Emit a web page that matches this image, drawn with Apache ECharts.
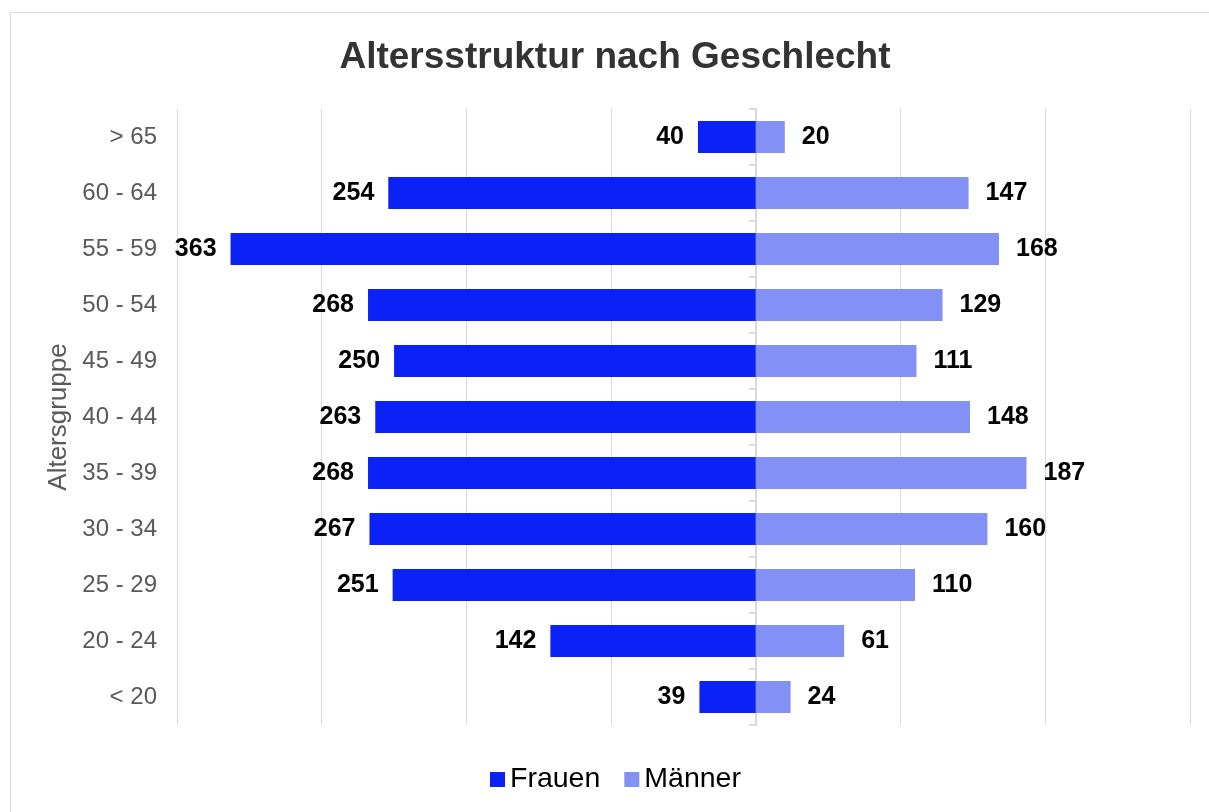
<!DOCTYPE html>
<html lang="de">
<head>
<meta charset="utf-8">
<title>Altersstruktur nach Geschlecht</title>
<script src="https://cdn.jsdelivr.net/npm/echarts@6/dist/echarts.min.js"></script>
<style>
  html, body { margin: 0; padding: 0; background: #ffffff; }
  #chart { width: 1209px; height: 812px; }
</style>
</head>
<body>
<div id="chart"></div>
<script>
// Age groups, listed from the bottom row upwards
const ageGroups = ['< 20', '20 - 24', '25 - 29', '30 - 34', '35 - 39', '40 - 44', '45 - 49', '50 - 54', '55 - 59', '60 - 64', '> 65'];
// Headcounts per age group
const frauen = [39, 142, 251, 267, 268, 263, 250, 268, 363, 254, 40];
const maenner = [24, 61, 110, 160, 187, 148, 111, 129, 168, 147, 20];

const FONT = '"Liberation Sans", Arial, sans-serif';
const COLOR_F = '#0b22f6';
const COLOR_M = '#8391f7';

const chart = echarts.init(document.getElementById('chart'), null, { renderer: 'canvas' });

chart.setOption({
  animation: false,
  backgroundColor: '#ffffff',
  graphic: [{
    type: 'rect',
    shape: { x: 10.5, y: 12.5, width: 1260, height: 860 },
    style: { fill: 'none', stroke: '#d9d9d9', lineWidth: 1 },
    silent: true
  }],
  title: {
    text: 'Altersstruktur nach Geschlecht',
    left: 610,
    textAlign: 'center',
    top: 34,
    textStyle: { fontFamily: FONT, fontSize: 37, fontWeight: 'bold', color: '#333333' }
  },
  legend: {
    left: 485,
    top: 760,
    itemWidth: 15,
    itemHeight: 15,
    itemGap: 24,
    icon: 'rect',
    textStyle: { fontFamily: FONT, fontSize: 28.5, color: '#000000' },
    data: ['Frauen', 'Männer']
  },
  grid: { left: 177, right: 19, top: 109, bottom: 87, containLabel: false },
  xAxis: {
    type: 'value',
    min: -400,
    max: 300,
    interval: 100,
    axisLine: { show: false },
    axisTick: { show: false },
    axisLabel: { show: false },
    splitLine: { show: true, lineStyle: { color: '#d9d9d9', width: 1 } }
  },
  yAxis: [{
    type: 'category',
    position: 'left',
    data: ageGroups,
    name: 'Altersgruppe',
    nameLocation: 'middle',
    nameGap: 104,
    nameRotate: 90,
    nameTextStyle: { fontFamily: FONT, fontSize: 26, color: '#595959' },
    axisLine: { show: false, onZero: false },
    axisTick: { show: false },
    axisLabel: { margin: 20, fontFamily: FONT, fontSize: 24, color: '#595959' },
    splitLine: { show: false }
  }, {
    // centre axis line at zero with its tick marks
    type: 'category',
    position: 'left',
    data: ageGroups,
    axisLine: { show: true, onZero: true, lineStyle: { color: '#d9d9d9', width: 2 } },
    axisTick: { show: true, length: 7, lineStyle: { color: '#d9d9d9', width: 2 } },
    axisLabel: { show: false },
    splitLine: { show: false }
  }],
  series: [{
    name: 'Frauen',
    type: 'bar',
    stack: 'pyramide',
    yAxisIndex: 0,
    barWidth: 32,
    itemStyle: { color: COLOR_F },
    label: {
      show: true,
      position: 'left',
      distance: 14,
      fontFamily: FONT,
      fontSize: 25,
      fontWeight: 'bold',
      color: '#000000',
      formatter: p => Math.abs(p.value)
    },
    data: frauen.map(v => -v)
  }, {
    name: 'Männer',
    type: 'bar',
    stack: 'pyramide',
    yAxisIndex: 0,
    barWidth: 32,
    itemStyle: { color: COLOR_M },
    label: {
      show: true,
      position: 'right',
      distance: 17,
      fontFamily: FONT,
      fontSize: 25,
      fontWeight: 'bold',
      color: '#000000'
    },
    data: maenner
  }]
});
</script>
</body>
</html>
